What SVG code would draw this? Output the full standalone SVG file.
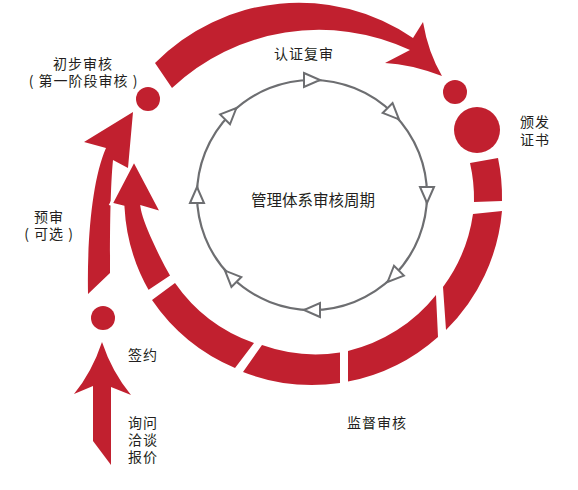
<svg xmlns="http://www.w3.org/2000/svg" xmlns:xlink="http://www.w3.org/1999/xlink" width="578" height="490" viewBox="0 0 578 490">
<style>
.red{fill:#c1202f}
.lbl{font-family:"Noto Sans CJK SC","Noto Sans",sans-serif;font-size:14px;fill:#231f20;letter-spacing:1px}
.ctr{font-family:"Noto Sans CJK SC","Noto Sans",sans-serif;font-size:15.5px;fill:#231f20}
.cyc{fill:none;stroke:#6d6e71;stroke-width:2.2}
.tri{fill:#fff;stroke:#6d6e71;stroke-width:2;stroke-linejoin:miter}
</style>
<defs>
<path id="tri" d="M -8 -7 L 8 0 L -8 7 Z"/>
</defs>
<rect width="578" height="490" fill="#fff"/>
<g id="cycle">
<circle class="cyc" cx="312" cy="195" r="115"/>
<g class="tri">
<use xlink:href="#tri" transform="translate(312,80) rotate(0)"/>
<use xlink:href="#tri" transform="translate(393.3,113.7) rotate(45)"/>
<use xlink:href="#tri" transform="translate(427,195) rotate(90)"/>
<use xlink:href="#tri" transform="translate(393.3,276.3) rotate(135)"/>
<use xlink:href="#tri" transform="translate(312,310) rotate(180)"/>
<use xlink:href="#tri" transform="translate(230.7,276.3) rotate(225)"/>
<use xlink:href="#tri" transform="translate(197,195) rotate(270)"/>
<use xlink:href="#tri" transform="translate(230.7,113.7) rotate(315)"/>
</g>
<text class="ctr" x="313" y="206" text-anchor="middle">管理体系审核周期</text>
</g>
<g id="connectors">
<path id="arrow-inquiry" class="red" d="M 93 441 L 93 386 L 74 394 Q 92 372 102 342 Q 112 372 131 395 L 111 387 L 111 465 Z"/>
<path id="arrow-prereview" class="red" d="M 88 294 C 87 240 92 180 106 148 L 84 142 L 133 112 L 128 168 L 113 160 C 110 190 110 240 110 273 Z"/>
<path id="arrow-recert" class="red" d="M 155 63 A 202 202 0 0 1 413 38 L 423 22 Q 428 52 442 76 Q 410 64 385 63 L 410 50 A 215 215 0 0 0 172 88 Z"/>
<g id="ring">
<path class="red" d="M 470 163 L 498 158 A 190 190 0 0 1 502 201 L 474 202 A 161 161 0 0 0 470 163 Z"/>
<path class="red" d="M 473 214 L 502 211 A 190 190 0 0 1 446 330 L 443 287 A 161 161 0 0 0 473 214 Z"/>
<path class="red" d="M 438 337 A 190 190 0 0 1 348 381.6 L 348 351 A 160 160 0 0 0 436 295 Z"/>
<path class="red" d="M 340 383 A 190 190 0 0 1 243 372 L 262 345 A 160 160 0 0 0 340 352.5 Z"/>
<path class="red" d="M 235 368 A 190 190 0 0 1 152 300 L 175 283 A 161 161 0 0 0 254 343 Z"/>
<path class="red" stroke="#fff" stroke-width="3" stroke-linejoin="miter" d="M 148 292 A 190 190 0 0 1 123 207 L 111 204 L 134 160 L 162 213 L 142 207 C 144 222 162 259 172 276 Z"/>
</g>
</g>
<g id="node-initial">
<circle class="red" cx="148" cy="99" r="12"/>
<text class="lbl" x="83" y="69" text-anchor="middle">初步审核</text>
<text class="lbl" x="83.5" y="86" text-anchor="middle">( 第一阶段审核 )</text>
</g>
<g id="node-recert">
<text class="lbl" x="304" y="59" text-anchor="middle">认证复审</text>
</g>
<g id="node-certificate">
<circle class="red" cx="455" cy="92" r="12"/>
<circle class="red" cx="477" cy="130" r="23"/>
<text class="lbl" x="520" y="127">颁发</text>
<text class="lbl" x="520" y="145">证书</text>
</g>
<g id="node-prereview">
<text class="lbl" x="49" y="222" text-anchor="middle">预审</text>
<text class="lbl" x="49" y="239" text-anchor="middle">( 可选 )</text>
</g>
<g id="node-contract">
<circle class="red" cx="103" cy="318" r="12"/>
<text class="lbl" x="128" y="360">签约</text>
</g>
<g id="node-inquiry">
<text class="lbl" x="128" y="428">询问</text>
<text class="lbl" x="128" y="445">洽谈</text>
<text class="lbl" x="128" y="462">报价</text>
</g>
<g id="node-surveillance">
<text class="lbl" x="377" y="428" text-anchor="middle">监督审核</text>
</g>
</svg>
